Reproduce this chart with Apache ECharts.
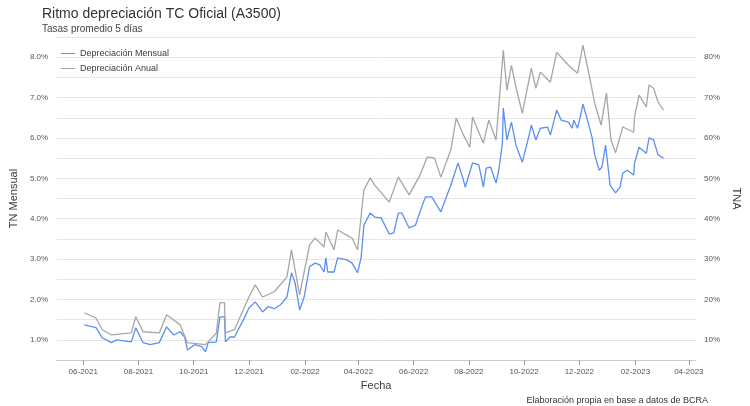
<!DOCTYPE html>
<html><head><meta charset="utf-8">
<script src="https://cdn.jsdelivr.net/npm/echarts@6/dist/echarts.min.js"></script>
<style>html,body{margin:0;padding:0;background:#fff}#c{width:750px;height:406px}</style>
</head><body><div id="c"></div>
<script>
// days since 2021-06-01
const mensualDias = [1,14,21,31,37,53,58,66,74,84,92,100,107,112,115,123,131,135,138,147,151,156,157,162,167,177,183,190,198,204,211,218,225,230,234,239,244,250,256,261,266,268,270,277,281,291,297,303,307,310,317,322,329,338,343,348,352,360,367,372,378,385,395,406,414,419,422,430,437,442,445,450,456,459,463,464,468,473,478,485,492,495,500,505,513,516,523,528,536,540,542,546,549,552,557,562,565,570,573,577,579,582,588,593,596,601,608,609,614,622,625,630,635,641];
const mensualValores = [1.37,1.30,1.05,0.93,1.00,0.95,1.30,0.93,0.88,0.93,1.32,1.12,1.20,1.07,0.75,0.88,0.83,0.70,0.93,0.95,1.57,1.57,0.95,1.07,1.07,1.50,1.79,1.94,1.69,1.82,1.77,1.87,2.06,2.66,2.41,1.74,2.06,2.81,2.90,2.86,2.68,3.03,2.68,2.68,3.03,2.98,2.90,2.66,3.05,3.84,4.14,4.04,4.02,3.62,3.65,4.14,4.14,3.77,3.84,4.17,4.54,4.54,4.17,4.83,5.38,5.03,4.78,5.38,5.33,4.78,5.25,5.28,4.88,5.20,5.87,6.74,5.95,6.39,5.82,5.40,6.02,6.32,5.95,6.24,6.27,6.07,6.69,6.44,6.39,6.24,6.44,6.24,6.52,6.84,6.44,6.02,5.58,5.20,5.28,5.82,5.82,4.83,4.64,4.78,5.13,5.20,5.08,5.38,5.77,5.62,6.00,5.95,5.58,5.50];
const anualDias = [1,14,21,31,53,58,66,84,92,107,115,135,147,151,156,157,167,183,190,198,211,225,230,239,250,256,266,268,277,281,297,303,310,317,322,338,348,360,372,380,388,395,406,412,419,427,430,442,448,456,460,464,468,473,478,485,495,500,505,516,523,536,546,552,560,565,572,578,583,588,596,608,609,614,622,625,630,635,641];
const anualValores = [16.7,15.4,12.5,11.2,11.7,15.7,12.0,11.7,16.2,13.7,9.3,8.8,11.7,19.2,19.2,11.7,12.5,20.6,23.6,20.6,21.9,25.6,32.3,21.1,33.5,35.2,33.0,36.7,32.3,37.2,35.2,32.3,47.1,50.1,48.3,44.1,50.3,45.9,50.8,55.3,55.0,50.3,57.0,64.9,61.2,57.7,65.2,58.7,64.4,59.5,70.6,81.7,71.8,78.0,72.6,66.1,77.3,72.3,76.3,73.8,81.2,78.0,76.0,83.0,74.3,68.6,63.2,71.1,59.5,56.3,62.7,61.4,65.2,70.6,67.7,73.1,72.3,68.9,66.9];
const tickDias = [0,61,122,183,245,304,365,426,487,548,610,669];
const tickEtiquetas = ['06-2021','08-2021','10-2021','12-2021','02-2022','04-2022','06-2022','08-2022','10-2022','12-2022','02-2023','04-2023'];

const toPts = (d,v) => d.map((x,i)=>[x, v[i]]);
const txt = '#3a3a3a', axisTxt = '#555';
const chart = echarts.init(document.getElementById('c'));
chart.setOption({
  animation:false,
  textStyle:{fontFamily:'Liberation Sans, Arial, sans-serif'},
  title:[
    {text:'Ritmo depreciación TC Oficial (A3500)', left:37, top:2, textStyle:{fontSize:14, fontWeight:'normal', color:'#333'}},
    {text:'Tasas promedio 5 días', left:37, top:19, textStyle:{fontSize:10, fontWeight:'normal', color:'#444'}},
    {text:'Elaboración propia en base a datos de BCRA', right:37, top:391, textStyle:{fontSize:9, fontWeight:'normal', color:'#333'}}
  ],
  legend:{orient:'vertical', left:56, top:44, itemWidth:14, itemHeight:8, itemGap:6,
    textStyle:{fontSize:9, color:txt}, icon:'path://M0,4L14,4L14,5L0,5Z',
    data:['Depreciación Mensual','Depreciación Anual']},
  grid:{left:38, right:32, top:37, bottom:46},
  xAxis:{type:'value', min:-30, max:677,
    name:'Fecha', nameLocation:'middle', nameGap:20, nameTextStyle:{fontSize:11,color:txt},
    axisLine:{show:true, lineStyle:{color:'#ccc'}},
    axisTick:{show:true, customValues:tickDias, lineStyle:{color:'#999'}},
    axisLabel:{fontSize:8, color:axisTxt, customValues:tickDias,
      formatter:v=>{const i=tickDias.indexOf(Math.round(v));return i>=0?tickEtiquetas[i]:'';}},
    splitLine:{show:false}},
  yAxis:[
    {type:'value', min:0.5, max:8.5, interval:0.5, name:'TN Mensual', nameLocation:'middle', nameGap:28,
     nameTextStyle:{fontSize:11,color:txt},
     axisLabel:{fontSize:8, color:axisTxt, formatter:v=>Math.abs(v-Math.round(v))<1e-6 && v>=1 ? v.toFixed(1)+'%' : ''},
     axisTick:{show:false}, axisLine:{show:false},
     splitLine:{lineStyle:{color:'#e6e6e6'}}},
    {type:'value', min:5, max:85, interval:5, name:'TNA', nameLocation:'middle', nameGap:26, nameRotate:-90,
     nameTextStyle:{fontSize:11,color:txt},
     axisLabel:{fontSize:8, color:axisTxt, formatter:v=>v%10===0 && v>=10 ? v+'%' : ''},
     axisTick:{show:false}, axisLine:{show:false}, splitLine:{show:false}}
  ],
  series:[
    {name:'Depreciación Mensual', type:'line', yAxisIndex:0, showSymbol:false, data:toPts(mensualDias,mensualValores),
     lineStyle:{color:'#5b8ff0', width:1.3}, itemStyle:{color:'#5b8ff0'}},
    {name:'Depreciación Anual', type:'line', yAxisIndex:1, showSymbol:false, data:toPts(anualDias,anualValores),
     lineStyle:{color:'#a6a6a6', width:1.3}, itemStyle:{color:'#a6a6a6'}}
  ]
});
</script></body></html>
